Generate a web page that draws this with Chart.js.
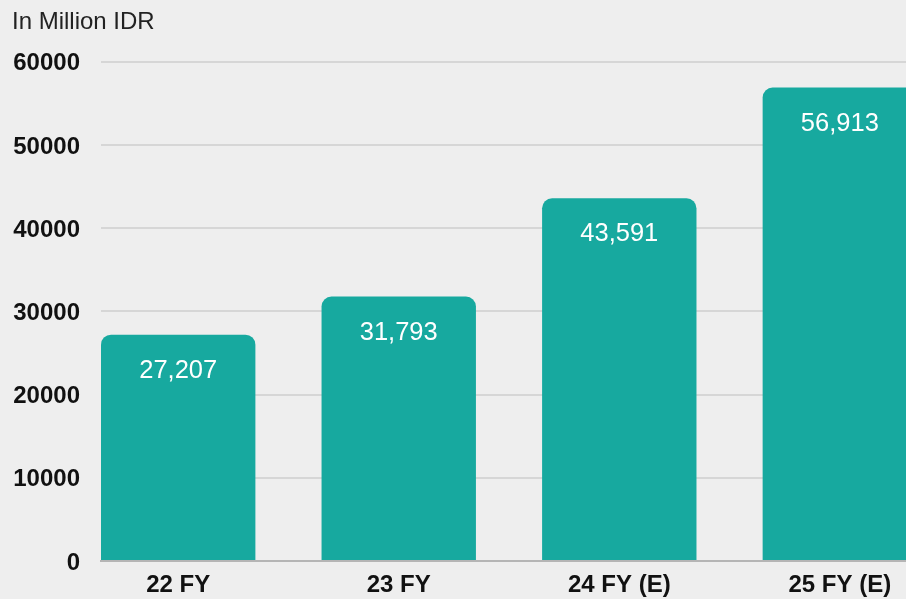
<!DOCTYPE html>
<html>
<head>
<meta charset="utf-8">
<script src="https://cdn.jsdelivr.net/npm/chart.js@4"></script>
<style>
  html, body { margin: 0; padding: 0; background: #eeeeee; overflow: hidden; }
  #wrap { width: 906px; height: 599px; }
</style>
</head>
<body>
<div id="wrap"><canvas id="revenueChart"></canvas></div>
<script>
// data
const years = ['22 FY', '23 FY', '24 FY (E)', '25 FY (E)'];
const revenue = [27207, 31793, 43591, 56913];
const yTicks = [0, 10000, 20000, 30000, 40000, 50000, 60000];

const FONT = "'Liberation Sans', Arial, sans-serif";
const teal = '#17a99f';

// white value labels just under the top of each bar
const valueLabels = {
  id: 'valueLabels',
  afterDatasetsDraw(chart) {
    const c = chart.ctx;
    const meta = chart.getDatasetMeta(0);
    c.save();
    c.fillStyle = '#ffffff';
    c.font = '25.5px ' + FONT;
    c.textAlign = 'center';
    c.textBaseline = 'middle';
    meta.data.forEach((bar, i) => {
      c.fillText(revenue[i].toLocaleString('en-US'), bar.x, bar.y + 36);
    });
    c.restore();
  }
};

const ctx = document.getElementById('revenueChart').getContext('2d');
const chart = new Chart(ctx, {
  type: 'bar',
  data: {
    datasets: [{
      data: revenue.map((v, i) => ({ x: i, y: v })),
      backgroundColor: teal,
      borderRadius: { topLeft: 10, topRight: 10 },
      borderSkipped: 'start',
      categoryPercentage: 0.7,
      barPercentage: 1
    }]
  },
  options: {
    responsive: true,
    maintainAspectRatio: false,
    animation: false,
    layout: { padding: { left: 12, right: 0, top: 0, bottom: 0 } },
    plugins: {
      legend: { display: false },
      tooltip: { enabled: false },
      title: {
        display: true,
        text: 'In Million IDR',
        align: 'start',
        color: '#222222',
        font: { family: FONT, size: 24, weight: 'normal' },
        padding: { top: 8, bottom: 25 }
      }
    },
    scales: {
      x: {
        type: 'linear',
        offset: false,
        min: -0.35,
        max: 3.3,
        afterFit: axis => { axis.height = 38; },
        grid: { display: false, drawTicks: false },
        border: { display: true, color: '#b5b5b5', width: 2 },
        ticks: {
          stepSize: 1,
          includeBounds: false,
          autoSkip: false,
          maxRotation: 0,
          padding: 10,
          color: '#111111',
          font: { family: FONT, size: 24, weight: 'bold' },
          callback: v => years[v] ?? ''
        }
      },
      y: {
        min: 0,
        max: 60000,
        afterBuildTicks: axis => { axis.ticks = yTicks.map(v => ({ value: v })); },
        afterFit: axis => { axis.width = 89; },
        grid: { color: '#d6d6d6', lineWidth: 2, drawTicks: false },
        border: { display: false },
        ticks: {
          padding: 21,
          labelOffset: 2,
          color: '#111111',
          font: { family: FONT, size: 24, weight: 'bold' },
          callback: v => String(v)
        }
      }
    }
  },
  plugins: [valueLabels]
});
</script>
</body>
</html>
